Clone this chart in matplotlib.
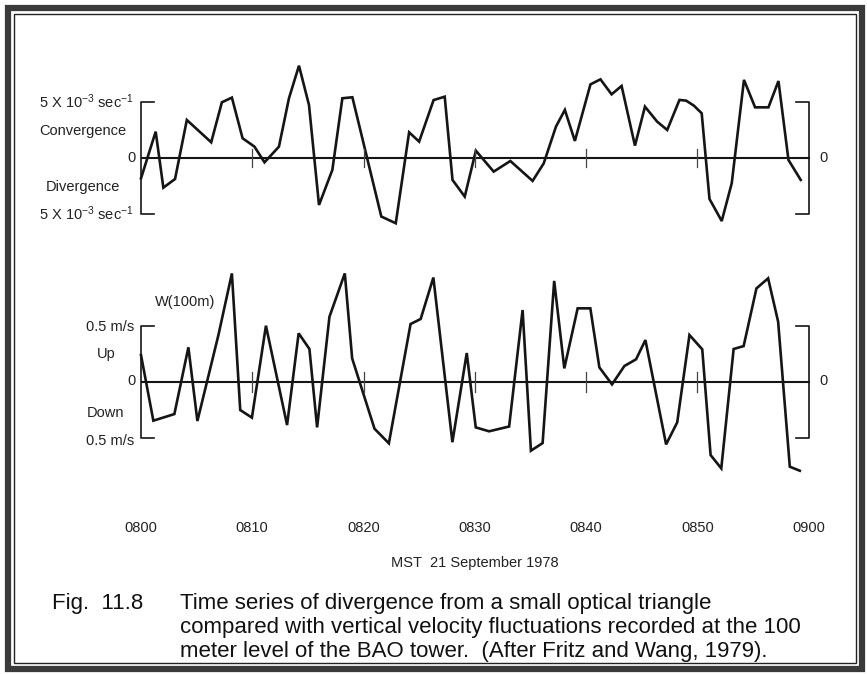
import matplotlib
matplotlib.use("Agg")
import matplotlib.pyplot as plt
from matplotlib.patches import Rectangle
import matplotlib.transforms as mtransforms

plt.rcParams['font.family'] = ['Liberation Sans', 'DejaVu Sans']
plt.rcParams['mathtext.fontset'] = 'custom'
plt.rcParams['mathtext.rm'] = 'Liberation Sans'
plt.rcParams['mathtext.it'] = 'Liberation Sans:italic'

# ---- data (minutes after 0800, values) ----
div_t = [0.0, 1.32, 2.01, 3.06, 4.12, 6.31, 7.27, 8.17, 9.13, 10.2, 11.1, 12.4, 13.3, 14.2,
         15.1, 16.0, 17.2, 18.1, 19.0, 21.6, 22.9, 24.1, 25.0, 26.3, 27.3, 28.0, 29.1, 30.1,
         31.7, 33.2, 35.2, 36.2, 37.3, 38.1, 39.0, 40.4, 41.3, 42.3, 43.2, 44.4, 45.3, 46.4,
         47.3, 48.4, 49.0, 49.7, 50.4, 51.1, 52.2, 53.1, 54.2, 55.2, 56.4, 57.3, 58.2, 59.3]
div_v = [-1.79, 2.38, -2.62, -1.85, 3.42, 1.43, 5.0, 5.42, 1.79, 1.04, -0.36, 1.04, 5.36, 8.27,
         4.76, -4.17, -1.04, 5.36, 5.45, -5.2, -5.8, 2.32, 1.49, 5.2, 5.5, -1.93, -3.42, 0.68,
         -1.19, -0.24, -2.02, -0.45, 2.83, 4.32, 1.55, 6.6, 7.05, 5.71, 6.46, 1.13, 4.61, 3.27,
         2.53, 5.21, 5.15, 4.7, 4.02, -3.63, -5.6, -2.23, 7.0, 4.55, 4.55, 6.9, -0.15, -1.93]

w_t = [0.0, 1.11, 3.0, 4.26, 5.07, 6.96, 8.17, 8.92, 9.97, 11.23, 13.13, 14.17, 15.14, 15.83,
       16.94, 18.32, 18.98, 20.99, 22.28, 24.23, 25.14, 26.28, 27.99, 29.28, 30.09, 31.29,
       33.09, 34.30, 35.05, 36.10, 37.14, 38.05, 39.25, 40.39, 41.2, 42.34, 43.45, 44.5, 45.34,
       47.2, 48.2, 49.3, 50.45, 51.2, 52.16, 53.27, 54.17, 55.32, 56.37, 57.27, 58.32, 59.22]
w_v = [0.238, -0.348, -0.289, 0.307, -0.351, 0.417, 0.967, -0.253, -0.321, 0.5, -0.387, 0.432,
       0.292, -0.408, 0.58, 0.967, 0.208, -0.42, -0.55, 0.515, 0.56, 0.93, -0.54, 0.256, -0.408,
       -0.443, -0.40, 0.64, -0.616, -0.548, 0.90, 0.119, 0.655, 0.655, 0.128, -0.024, 0.14, 0.2,
       0.372, -0.56, -0.363, 0.417, 0.289, -0.655, -0.774, 0.292, 0.318, 0.833, 0.923, 0.536,
       -0.759, -0.795]

tick_minutes = [0, 10, 20, 30, 40, 50, 60]
tick_labels = ["0800", "0810", "0820", "0830", "0840", "0850", "0900"]
div_ref = 5.0   # 5 x 10^-3 sec^-1
w_ref = 0.5     # 0.5 m/s

W, H = 867, 674
fig = plt.figure(figsize=(W / 100, H / 100), dpi=100)
fig.patch.set_facecolor('white')

X0, X1 = 141, 808.5
def frac_x(px):
    return px / W
def frac_y(py):
    return 1 - py / H

# top axes: zero at 158.3 px, 1 unit = 11.2 px
top_lim = (-7.0, 9.0)
ytop = 158.3 - top_lim[1] * 11.2
ybot = 158.3 - top_lim[0] * 11.2
ax1 = fig.add_axes([frac_x(X0), frac_y(ybot), (X1 - X0) / W, (ybot - ytop) / H])
ax1.set_xlim(0, 60)
ax1.set_ylim(*top_lim)

# bottom axes: zero at 381.7 px, 1 m/s = 112 px
bot_lim = (-0.9, 1.0)
ytop2 = 381.7 - bot_lim[1] * 112
ybot2 = 381.7 - bot_lim[0] * 112
ax2 = fig.add_axes([frac_x(X0), frac_y(ybot2), (X1 - X0) / W, (ybot2 - ytop2) / H])
ax2.set_xlim(0, 60)
ax2.set_ylim(*bot_lim)

lc = '#151515'
for ax, t, v, ref, tk in [(ax1, div_t, div_v, div_ref, 0.8), (ax2, w_t, w_v, w_ref, 0.09)]:
    ax.axis('off')
    ax.plot([0, 60.1], [0, 0], color=lc, lw=1.5, solid_capstyle='butt', clip_on=False)
    ax.plot(t, v, color=lc, lw=1.9, solid_joinstyle='miter', clip_on=False)
    # brackets
    ax.plot([1.15, 0, 0, 1.15], [ref, ref, -ref, -ref], color=lc, lw=1.2, clip_on=False)
    ax.plot([58.9, 60.05, 60.05, 58.9], [ref, ref, -ref, -ref], color=lc, lw=1.2, clip_on=False)
    for m in tick_minutes[1:-1]:
        ax.plot([m, m], [-tk, tk], color='#444', lw=0.9, clip_on=False)

fs = 10.5
kw = dict(fontsize=fs, color='#222')
# top labels
fig.text(frac_x(134), frac_y(102), r"5 X 10$^{-3}$ sec$^{-1}$", ha='right', va='center', **kw)
fig.text(frac_x(83), frac_y(131), "Convergence", ha='center', va='center', **kw)
fig.text(frac_x(132), frac_y(158), "0", ha='center', va='center', **kw)
fig.text(frac_x(83), frac_y(187), "Divergence", ha='center', va='center', **kw)
fig.text(frac_x(134), frac_y(214), r"5 X 10$^{-3}$ sec$^{-1}$", ha='right', va='center', **kw)
fig.text(frac_x(823), frac_y(158), "0", ha='center', va='center', **kw)
# bottom labels
fig.text(frac_x(185), frac_y(302), "W(100m)", ha='center', va='center', **kw)
fig.text(frac_x(134), frac_y(327), "0.5 m/s", ha='right', va='center', **kw)
fig.text(frac_x(106), frac_y(354), "Up", ha='center', va='center', **kw)
fig.text(frac_x(132), frac_y(381), "0", ha='center', va='center', **kw)
fig.text(frac_x(106), frac_y(413), "Down", ha='center', va='center', **kw)
fig.text(frac_x(134), frac_y(441), "0.5 m/s", ha='right', va='center', **kw)
fig.text(frac_x(823), frac_y(381), "0", ha='center', va='center', **kw)

# x tick labels
blend = mtransforms.blended_transform_factory(ax2.transData, fig.transFigure)
for m, lab in zip(tick_minutes, tick_labels):
    fig.text(m, frac_y(528), lab, transform=blend, ha='center', va='center', **kw)
fig.text(frac_x(475), frac_y(563), "MST  21 September 1978", ha='center', va='center', **kw)

# caption
cfs = 16
fig.text(frac_x(52), frac_y(603), "Fig.  11.8", ha='left', va='center', fontsize=cfs, color='#111')
cap = ["Time series of divergence from a small optical triangle",
       "compared with vertical velocity fluctuations recorded at the 100",
       "meter level of the BAO tower.  (After Fritz and Wang, 1979)."]
for i, line in enumerate(cap):
    fig.text(frac_x(180), frac_y(603 + 24 * i), line, ha='left', va='center', fontsize=cfs,
             color='#111', linespacing=1.0)

# frame (scanned border)
fig.patches.append(Rectangle((frac_x(8), frac_y(669)), (862 - 8) / W, (669 - 8) / H,
                             transform=fig.transFigure, fill=False, ec='#3a3a3a', lw=4.5))
fig.patches.append(Rectangle((frac_x(14), frac_y(663)), (856 - 14) / W, (663 - 14) / H,
                             transform=fig.transFigure, fill=False, ec='#222', lw=1.0))

fig.savefig("out.png", dpi=100, facecolor='white')
